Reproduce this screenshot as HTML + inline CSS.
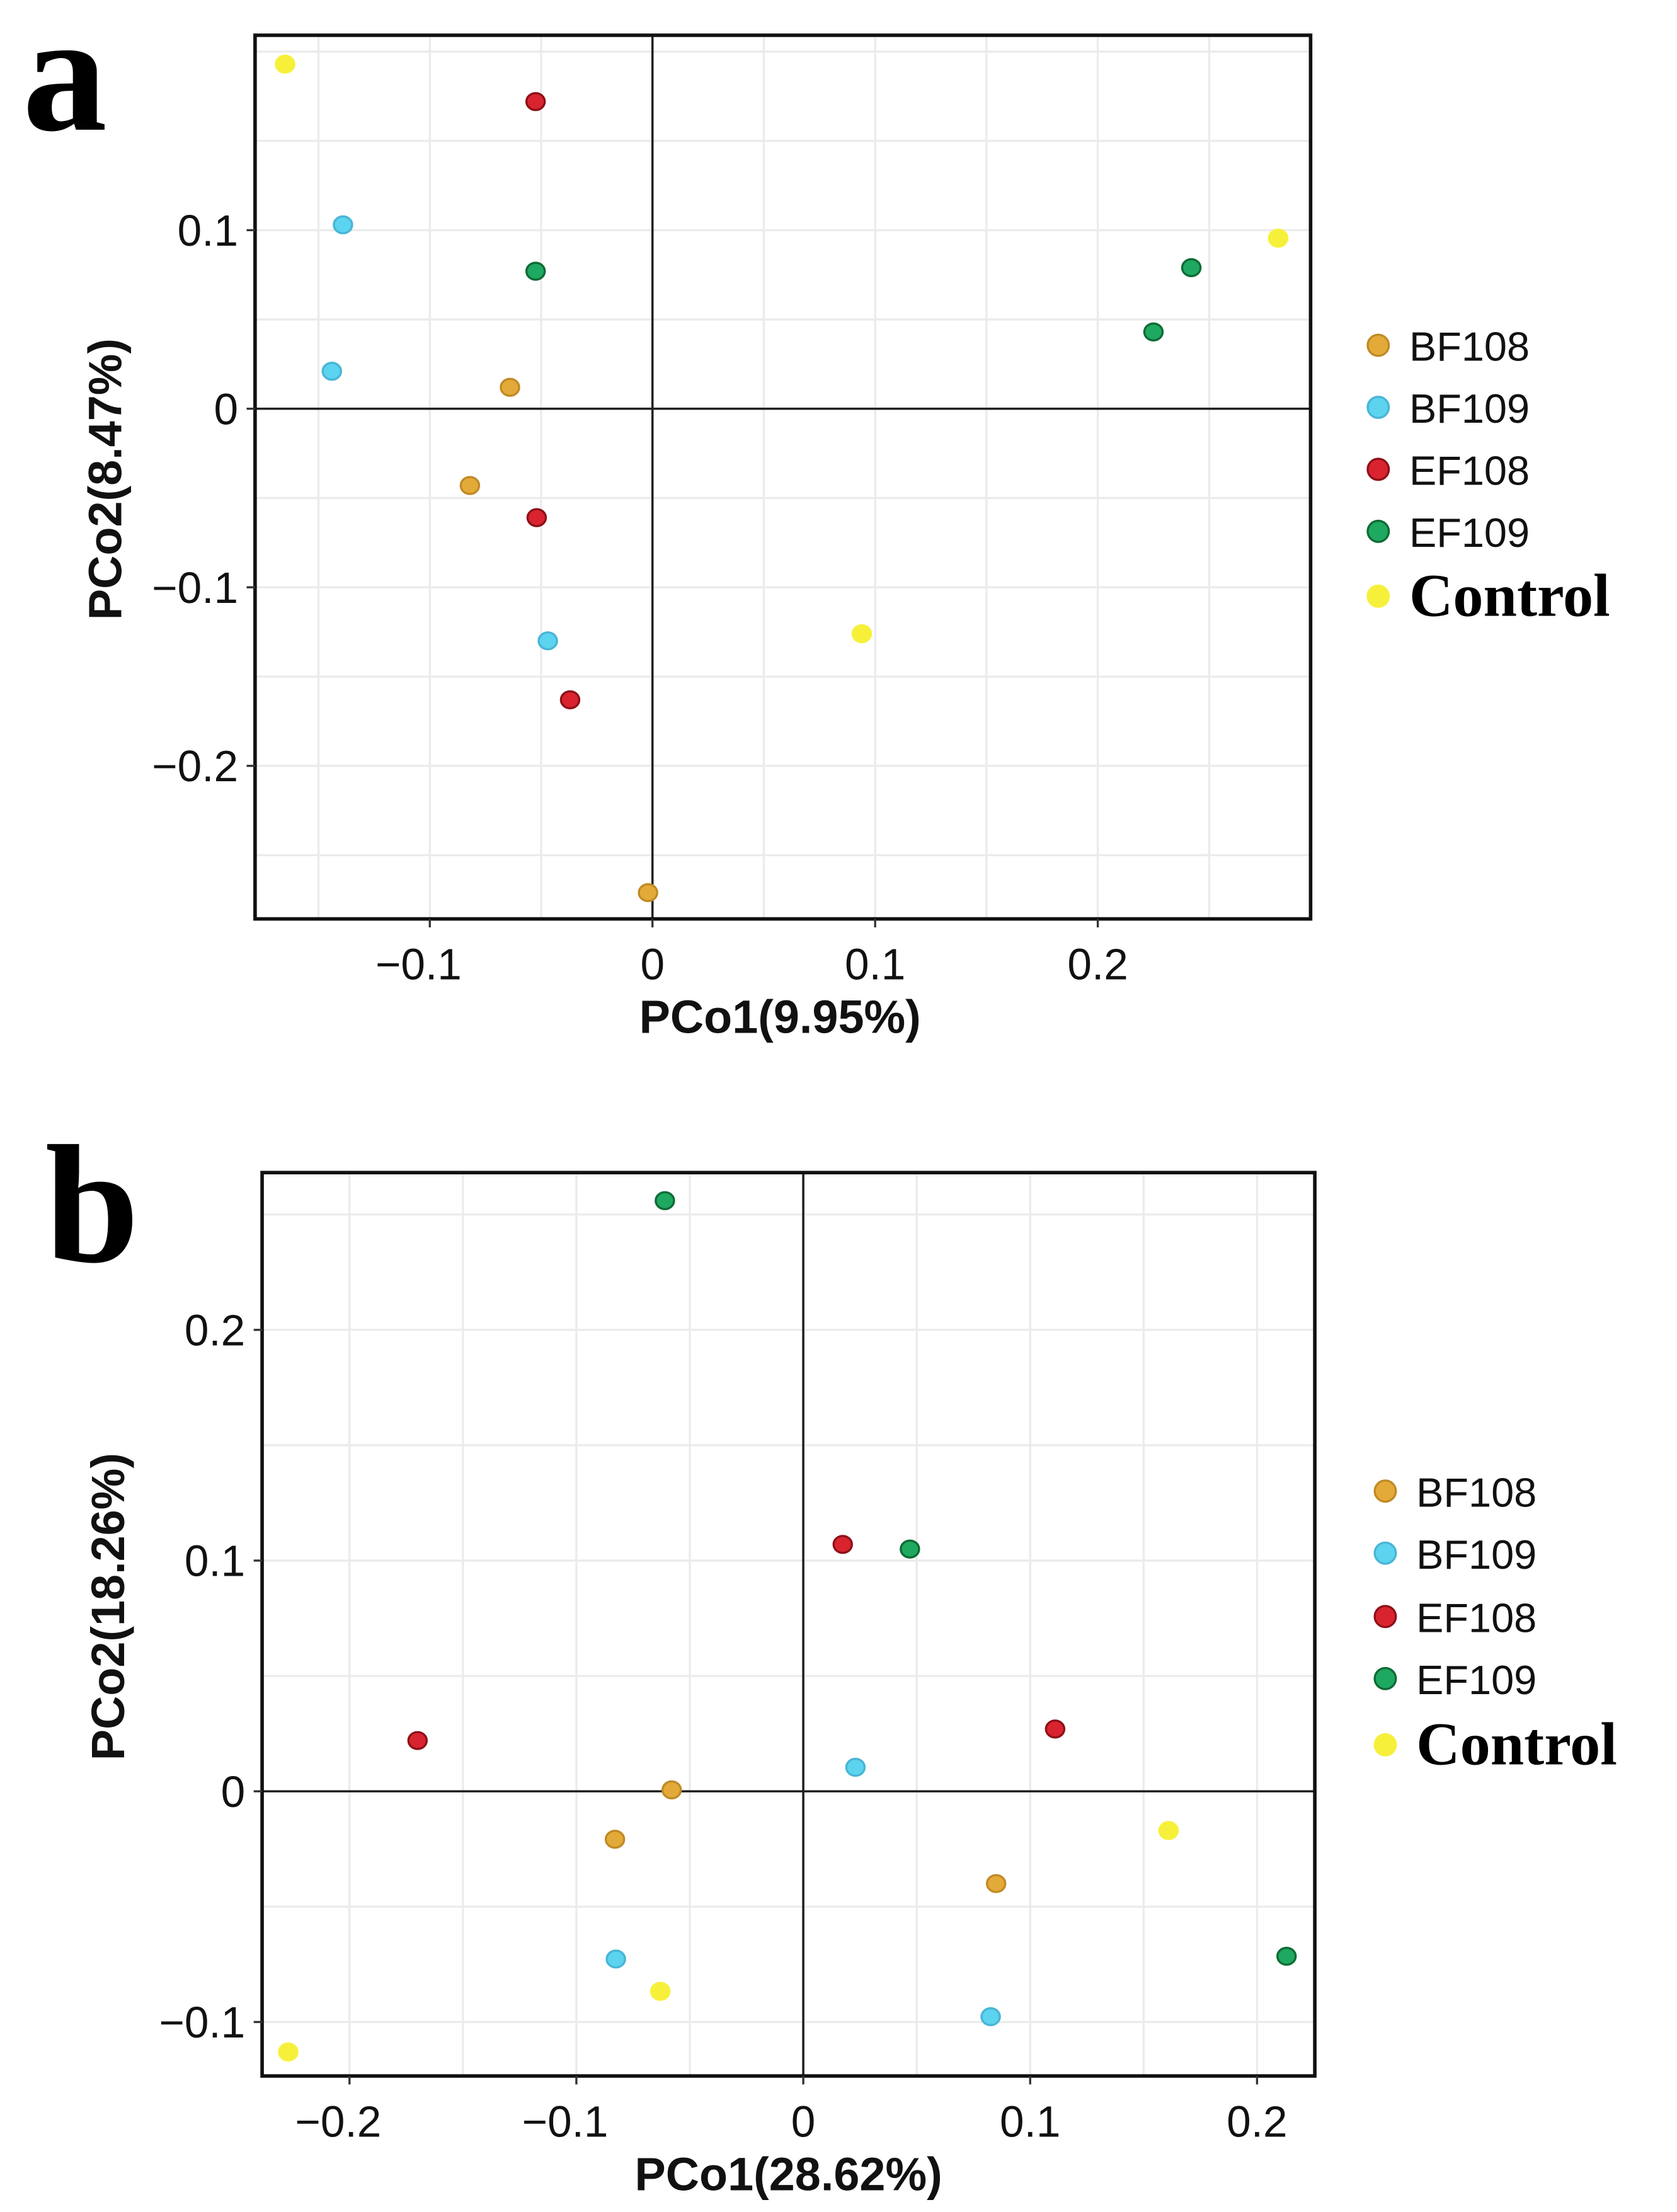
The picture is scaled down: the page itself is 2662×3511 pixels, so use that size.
<!DOCTYPE html>
<html><head><meta charset="utf-8"><style>
html,body{margin:0;padding:0;background:#fff;}
svg{display:block;}
.tick{font-family:"Liberation Sans",sans-serif;font-size:31px;fill:#111;}
.title{font-family:"Liberation Sans",sans-serif;font-size:33px;font-weight:bold;fill:#111;}
.leg{font-family:"Liberation Sans",sans-serif;font-size:29px;fill:#111;}
.legc{font-family:"Liberation Serif",serif;font-size:43px;font-weight:bold;fill:#000;}
.panel{font-family:"Liberation Serif",serif;font-size:120px;font-weight:bold;fill:#000;}
</style></head><body>
<svg id="fig" width="2662" height="3511" viewBox="0 0 1190 1569.5"></svg>
<script>
const groups = ["BF108","BF109","EF108","EF109","Control"];
const colors = {BF108:"#e3aa3a",BF109:"#5cd3ef",EF108:"#d92430",EF109:"#1fa860",Control:"#f7f03a"};
const strokes = {BF108:"#c08a25",BF109:"#48b5d5",EF108:"#8e1018",EF109:"#0e6b35",Control:"#f7f03a"};
// Panel a data
const aGroup = ["Control","Control","Control","EF108","EF108","EF108","BF109","BF109","BF109","EF109","EF109","EF109","BF108","BF108","BF108"];
const aX = [-0.165,0.281,0.094,-0.0525,-0.052,-0.037,-0.139,-0.144,-0.047,-0.0525,0.242,0.225,-0.064,-0.082,-0.002];
const aY = [0.193,0.0955,-0.126,0.172,-0.061,-0.163,0.103,0.021,-0.130,0.077,0.079,0.043,0.012,-0.043,-0.271];
const aXTicks = [-0.1,0,0.1,0.2];
const aXTickLabels = ["\u22120.1","0","0.1","0.2"];
const aYTicks = [0.1,0,-0.1,-0.2];
const aYTickLabels = ["0.1","0","\u22120.1","\u22120.2"];
// Panel b data
const bGroup = ["EF109","EF109","EF109","EF108","EF108","EF108","BF109","BF109","BF109","BF108","BF108","BF108","Control","Control","Control"];
const bX = [-0.061,0.047,0.213,-0.170,0.0174,0.111,0.023,-0.0826,0.0826,-0.058,-0.083,0.085,-0.063,-0.227,0.161];
const bY = [0.256,0.105,-0.0715,0.022,0.107,0.027,0.0104,-0.0727,-0.0977,0.0006,-0.0208,-0.040,-0.0867,-0.113,-0.017];
const bXTicks = [-0.2,-0.1,0,0.1,0.2];
const bXTickLabels = ["\u22120.2","\u22120.1","0","0.1","0.2"];
const bYTicks = [0.2,0.1,0,-0.1];
const bYTickLabels = ["0.2","0.1","0","\u22120.1"];

const NS="http://www.w3.org/2000/svg";
const svg=document.getElementById('fig');
function mk(tag,attrs,parent){const e=document.createElementNS(NS,tag);for(const k in attrs)e.setAttribute(k,attrs[k]);(parent||svg).appendChild(e);return e;}

function panel(cfg){
  const g=mk('g',{});
  
  
  const {L,R,T,B,x0,xs,y0,ys}=cfg;
  const sx=v=>x0+v*xs, sy=v=>y0-v*ys;
  mk('rect',{x:L,y:T,width:R-L,height:B-T,fill:'#fff'},g);
  const xmin=(L-x0)/xs,xmax=(R-x0)/xs,ymin=(y0-B)/ys,ymax=(y0-T)/ys;
  for(let v=Math.ceil(xmin/0.05)*0.05;v<=xmax;v+=0.05){
    const l=mk('line',{x1:sx(v),x2:sx(v),y1:T,y2:B,stroke:'#ebebeb','stroke-width':1.5},g);
    
    
  }
  for(let v=Math.ceil(ymin/0.05)*0.05;v<=ymax;v+=0.05){
    const l=mk('line',{x1:L,x2:R,y1:sy(v),y2:sy(v),stroke:'#ebebeb','stroke-width':1.5},g);
    
    
  }
  const zx=mk('line',{x1:sx(0),x2:sx(0),y1:T,y2:B,stroke:'#222','stroke-width':1.6},g);
  
  
  const zy=mk('line',{x1:L,x2:R,y1:sy(0),y2:sy(0),stroke:'#222','stroke-width':1.6},g);
  
  
  cfg.X.forEach((xv,i)=>{
    const gr=cfg.G[i];
    const c=mk('ellipse',{cx:sx(xv),cy:sy(cfg.Y[i]),rx:6.5,ry:6,fill:colors[gr],stroke:strokes[gr],'stroke-width':1.5},g);
    
    
  });
  const box=mk('rect',{x:L,y:T,width:R-L,height:B-T,fill:'none',stroke:'#111','stroke-width':2.5},g);
  
  
  cfg.xt.forEach((v,i)=>{
    mk('line',{x1:sx(v),x2:sx(v),y1:B,y2:B+6,stroke:'#333','stroke-width':1.5},g);
    const t=mk('text',{x:sx(v)-(cfg.xl[i][0]=='\u2212'?8:0),y:B+43,'text-anchor':'middle',class:'tick'},g);
    t.textContent=cfg.xl[i];
    
    
  });
  cfg.yt.forEach((v,i)=>{
    mk('line',{x1:L-6,x2:L,y1:sy(v),y2:sy(v),stroke:'#333','stroke-width':1.5},g);
    const t=mk('text',{x:L-12,y:sy(v)+11,'text-anchor':'end',class:'tick'},g);
    t.textContent=cfg.yl[i];
    
    
  });
  const xtl=mk('text',{x:(L+R)/2+(cfg.xtOff||0),y:B+81,'text-anchor':'middle',class:'title'},g);
  xtl.textContent=cfg.xtitle;
  
  
  const ytl=mk('text',{x:0,y:0,'text-anchor':'middle',class:'title',transform:`translate(${cfg.ytX},${cfg.ytY}) rotate(-90)`},g);
  ytl.textContent=cfg.ytitle;
  
  
  const pl=mk('text',{x:cfg.plX,y:cfg.plY,class:'panel'},g);
  pl.textContent=cfg.label;
  
  
  const lg=mk('g',{},g);
  
  
  groups.forEach((gr,i)=>{
    const y=cfg.legY[i];
    const e=mk('g',{},lg);
    
    
    mk('circle',{cx:cfg.legX,cy:y,r:7.5,fill:colors[gr],stroke:strokes[gr],'stroke-width':1.5},e);
    const t=mk('text',{x:cfg.legX+22,y:gr==='Control'?y+14:y+11,class:gr==='Control'?'legc':'leg'},e);
    t.textContent=gr;
  });
}

panel({name:'panel-a',label:'a',plX:16,plY:92,L:181,R:930,T:25,B:652,x0:463,xs:1580,y0:290,ys:1267,
  G:aGroup,X:aX,Y:aY,xt:aXTicks,xl:aXTickLabels,yt:aYTicks,yl:aYTickLabels,
  xtitle:'PCo1(9.95%)',ytitle:'PCo2(8.47%)',ytX:86,ytY:340,xtOff:-2,
  legX:978,legY:[245,289,333,377,423]});
panel({name:'panel-b',label:'b',plX:32,plY:895,L:186,R:933,T:832,B:1473,x0:570,xs:1610,y0:1271,ys:1637,
  G:bGroup,X:bX,Y:bY,xt:bXTicks,xl:bXTickLabels,yt:bYTicks,yl:bYTickLabels,
  xtitle:'PCo1(28.62%)',ytitle:'PCo2(18.26%)',ytX:88,ytY:1140,xtOff:0,
  legX:983,legY:[1058,1102,1147,1191,1238]});
</script>
</body></html>
